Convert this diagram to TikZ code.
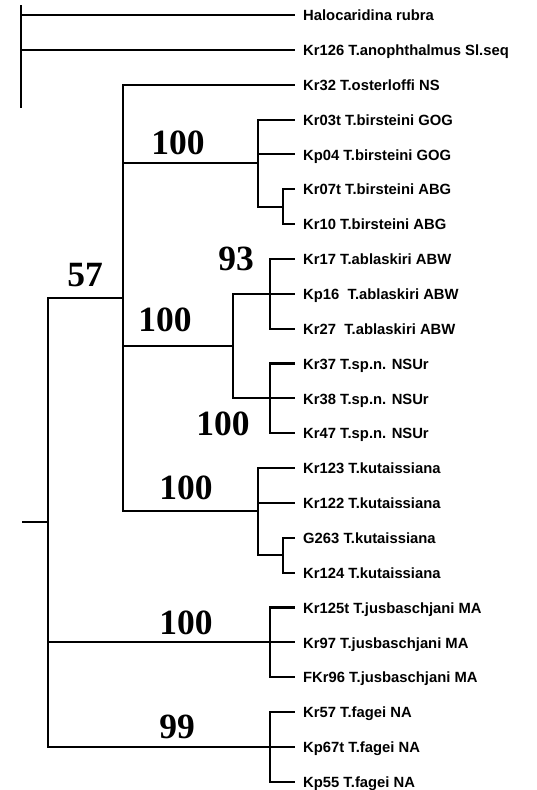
\documentclass[tikz,border=0pt]{standalone}
\usepackage{fontspec}
\setmainfont{Liberation Sans}
\newfontfamily\bsfont{Liberation Serif}
\begin{document}
\begin{tikzpicture}[x=1pt,y=-1pt,
  branch/.style={line width=2.1pt, line join=miter},
  leaf/.style={anchor=base west, inner sep=0pt, font=\fontsize{14.8}{16}\selectfont\bfseries},
  bs/.style={inner sep=0pt, font=\bsfont\fontsize{35.5}{40}\selectfont\bfseries}]
\useasboundingbox (0,0) rectangle (537,790);
\foreach \i/\t in {0/{Halocaridina rubra},1/{Kr126 T.anophthalmus Sl.seq},2/{Kr32 T.osterloffi NS},
  3/{Kr03t T.birsteini GOG},4/{Kp04 T.birsteini GOG},5/{Kr07t T.birsteini ABG},6/{Kr10 T.birsteini ABG},
  7/{Kr17 T.ablaskiri ABW},8/{Kp16~~T.ablaskiri ABW},9/{Kr27~~T.ablaskiri ABW},
  10/{Kr37 T.sp.n. NSUr},11/{Kr38 T.sp.n. NSUr},12/{Kr47 T.sp.n. NSUr},
  13/{Kr123 T.kutaissiana},14/{Kr122 T.kutaissiana},15/{G263 T.kutaissiana},16/{Kr124 T.kutaissiana},
  17/{Kr125t T.jusbaschjani MA},18/{Kr97 T.jusbaschjani MA},19/{FKr96 T.jusbaschjani MA},
  20/{Kr57 T.fagei NA},21/{Kp67t T.fagei NA},22/{Kp55 T.fagei NA}}{
  \coordinate (l\i) at (295,{15+34.85*\i});
  \node[leaf] (t\i) at (303,{20.7+34.85*\i}) {\t};
}
% internal nodes
\coordinate (rt) at (21,5);
\coordinate (rb) at (21,108);
\coordinate (N57) at (123,298);
\coordinate (A) at (258,163);
\coordinate (B) at (283,207);
\coordinate (C) at (233,346);
\coordinate (D) at (270,293.8);
\coordinate (E) at (270,398.4);
\coordinate (F) at (258,511);
\coordinate (G) at (283,555);
\coordinate (R2) at (48,522);
\coordinate (stub) at (22,522);
\coordinate (H) at (270,642.3);
\coordinate (I) at (270,746.9);
% branches
\draw[branch] (rt) -- (rb);
\draw[branch] (rt) |- (l0);
\draw[branch] (rt) |- (l1);
\draw[branch] (N57) |- (l2);
\draw[branch] (N57) |- (A);
\draw[branch] (N57) |- (C);
\draw[branch] (N57) |- (F);
\draw[branch] (A) |- (l3);
\draw[branch] (A) |- (l4);
\draw[branch] (A) |- (B);
\draw[branch] (B) |- (l5);
\draw[branch] (B) |- (l6);
\draw[branch] (C) |- (D);
\draw[branch] (C) |- (E);
\draw[branch] (D) |- (l7);
\draw[branch] (D) |- (l8);
\draw[branch] (D) |- (l9);
\draw[branch] (E) |- (l10);
\draw[branch] (E) |- (l11);
\draw[branch] (E) |- (l12);
\draw[branch] (F) |- (l13);
\draw[branch] (F) |- (l14);
\draw[branch] (F) |- (G);
\draw[branch] (G) |- (l15);
\draw[branch] (G) |- (l16);
\draw[branch] (stub) -- (R2);
\draw[branch] (R2) |- (N57);
\draw[branch] (R2) |- (H);
\draw[branch] (R2) |- (I);
\draw[branch] (H) |- (l17);
\draw[branch] (H) |- (l18);
\draw[branch] (H) |- (l19);
\draw[branch] (I) |- (l20);
\draw[branch] (I) |- (l21);
\draw[branch] (I) |- (l22);
% bootstrap values
\node[bs] (b1) at (178,143) {100};
\node[bs] (b2) at (236,259) {93};
\node[bs] (b3) at (85,275) {57};
\node[bs] (b4) at (165,320) {100};
\node[bs] (b5) at (223,424) {100};
\node[bs] (b6) at (186,488) {100};
\node[bs] (b7) at (186,623) {100};
\node[bs] (b8) at (177,727) {99};
\end{tikzpicture}
\end{document}
